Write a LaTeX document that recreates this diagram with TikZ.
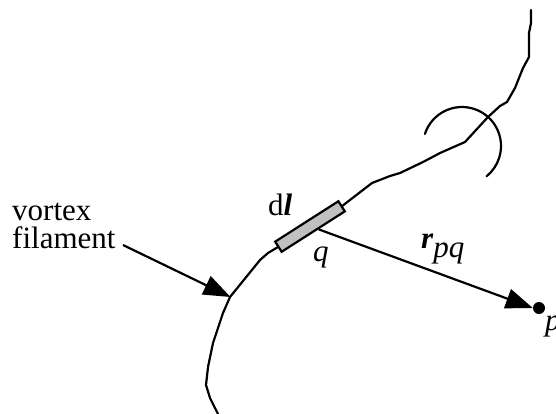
\documentclass[tikz,border=0pt]{standalone}
\usepackage{fontspec}
\setmainfont{Liberation Serif}
\usetikzlibrary{arrows.meta,calc}
\definecolor{elemgray}{RGB}{192,192,192}
\tikzset{
  lbl/.style={inner sep=0pt, anchor=base west, font=\fontsize{31}{35}\selectfont},
  filament/.style={line width=2.2pt, line join=round, line cap=round},
  bigarrow/.style={line width=2.2pt, -{Triangle[length=27pt,width=20pt]}},
  elem/.style={draw, line width=2.2pt, fill=elemgray, rectangle, minimum width=75pt, minimum height=12pt, inner sep=0pt, rotate=32.6},
  pdot/.style={circle, fill=black, minimum size=12pt, inner sep=0pt}
}
\begin{document}
\begin{tikzpicture}[x=1pt,y=-1pt]
\useasboundingbox (0,0) rectangle (556,413);
% labels
\node[lbl] (vortex) at (12,220) {vortex};
\node[lbl] (fil) at (12,248) {filament};
\node[lbl] (dlab) at (268,215) {d\textbf{\textit{l}}};
\node[lbl] (qlab) at (313,261) {\textit{q}};
\node[lbl] (rlab) at (421,248) {\textbf{\textit{r}}\raisebox{-9pt}{\textit{pq}}};
\node[lbl] (plab) at (545,330) {\textit{p}};
% element and point
\node[elem] (dl) at (310,226.5) {};
\node[pdot] (p) at (539,308) {};
% filament
\draw[filament] (dl.east) -- (372,183) -- (390,176) -- (400,173) -- (423,162) -- (440,153)
  -- (465,142) -- (488,117) -- (500,106) -- (507,102) -- (515,88) -- (523,68)
  -- (529,57) -- (529,33) -- (531,23) -- (531,10);
\draw[filament] (dl.west) -- (268,253) -- (260,260) -- (230,297) -- (223,313)
  -- (213,343) -- (208,367) -- (206,385) -- (210,398) -- (218,414);
% arc
\draw[filament] ([shift={(198:39)}]462,146) arc[start angle=198, end angle=411, radius=39];
% arrows
\coordinate (filtip) at (230.5,297);
\coordinate (filstart) at (123,245);
\draw[bigarrow] (filstart) -- (filtip);
\coordinate (rstart) at ($(dl.south)!0.15!(dl.south east)$);
\draw[bigarrow] (rstart) -- (p.west);
\end{tikzpicture}
\end{document}
